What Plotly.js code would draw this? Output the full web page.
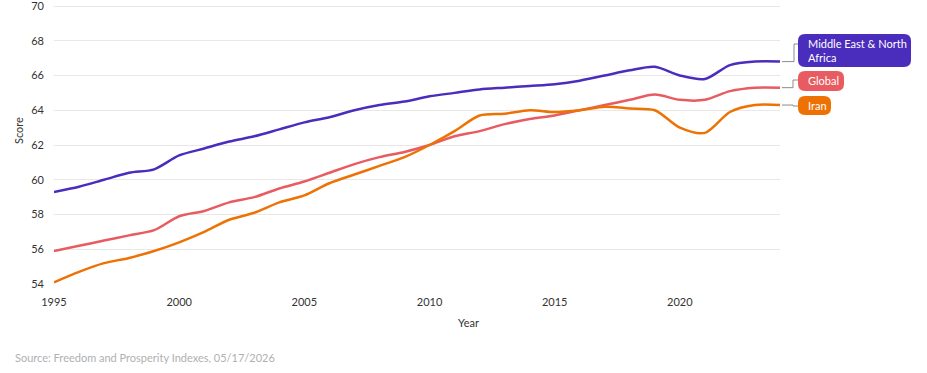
<!DOCTYPE html>
<html>
<head>
<meta charset="utf-8">
<script src="https://cdn.plot.ly/plotly-3.0.1.min.js"></script>
<style>
  html, body { margin: 0; padding: 0; background: #fff; }
  #chart { width: 927px; height: 373px; }
</style>
</head>
<body>
<div id="chart"></div>
<script>
// Economic freedom score by year
const years = [1995,1996,1997,1998,1999,2000,2001,2002,2003,2004,2005,2006,2007,2008,2009,2010,
               2011,2012,2013,2014,2015,2016,2017,2018,2019,2020,2021,2022,2023,2024];

const menaScores = [59.3,59.6,60.0,60.4,60.6,61.4,61.8,62.2,62.5,62.9,63.3,63.6,64.0,64.3,64.5,64.8,
                    65.0,65.2,65.3,65.4,65.5,65.7,66.0,66.3,66.5,66.0,65.8,66.6,66.8,66.8];
const globalScores = [55.9,56.2,56.5,56.8,57.1,57.9,58.2,58.7,59.0,59.5,59.9,60.4,60.9,61.3,61.6,62.0,
                      62.5,62.8,63.2,63.5,63.7,64.0,64.3,64.6,64.9,64.6,64.6,65.1,65.3,65.3];
const iranScores = [54.1,54.7,55.2,55.5,55.9,56.4,57.0,57.7,58.1,58.7,59.1,59.8,60.3,60.8,61.3,62.0,
                    62.8,63.7,63.8,64.0,63.9,64.0,64.2,64.1,64.0,63.0,62.7,63.9,64.3,64.3];

const seriesNames = ["Middle East & North Africa", "Global", "Iran"];
const seriesLabels = ["Middle East & North<br>Africa", "Global", "Iran"];
const seriesColors = ["#4a2dbd", "#e85b60", "#ee7203"];
const seriesValues = [menaScores, globalScores, iranScores];

const yTicks = [54,56,58,60,62,64,66,68,70];
const xTicks = [1995,2000,2005,2010,2015,2020];

const FONT = "Lato, 'Open Sans', sans-serif";
const W = 927, H = 373;
const M = {l: 54, r: 147, t: 0, b: 89};
const plotW = W - M.l - M.r, plotH = H - M.t - M.b;
// 16 score units span 278px; the area above 70 keeps a little headroom
const yRange = [54, 70 + 6 * 16 / 278];

// pixel helpers for the label boxes beside the plot
const px = x => (x - M.l) / plotW;
const py = y => (H - M.b - y) / plotH;
const valToPy = v => (H - M.b) - (v - yRange[0]) / (yRange[1] - yRange[0]) * plotH;

function roundRect(x0, y0, x1, y1, r) {
  const P = (x, y) => px(x) + "," + py(y);
  return "M" + P(x0 + r, y0) + " L" + P(x1 - r, y0) + " Q" + P(x1, y0) + " " + P(x1, y0 + r) +
         " L" + P(x1, y1 - r) + " Q" + P(x1, y1) + " " + P(x1 - r, y1) +
         " L" + P(x0 + r, y1) + " Q" + P(x0, y1) + " " + P(x0, y1 - r) +
         " L" + P(x0, y0 + r) + " Q" + P(x0, y0) + " " + P(x0 + r, y0) + " Z";
}

const traces = seriesValues.map((vals, i) => ({
  x: years, y: vals, name: seriesNames[i], type: "scatter", mode: "lines",
  line: {color: seriesColors[i], width: 2.5, shape: "spline", smoothing: 0.8},
  hoverinfo: "skip", cliponaxis: false
}));

// label boxes (left, top, right, bottom, elbow x, centre y) in pixels
const boxes = [
  {x0: 798, y0: 34, x1: 911, y1: 67, elbow: 794, cy: 44},
  {x0: 798, y0: 71, x1: 844, y1: 91, elbow: 793, cy: 80},
  {x0: 798, y0: 96, x1: 831, y1: 115, elbow: 793, cy: 106}
];

const shapes = [];
const annotations = [];
boxes.forEach((b, i) => {
  const vals = seriesValues[i];
  const ly = valToPy(vals[vals.length - 1]);
  shapes.push({
    type: "path", xref: "paper", yref: "paper",
    path: "M" + px(782) + "," + py(ly) + " L" + px(b.elbow) + "," + py(ly) +
          " L" + px(b.elbow) + "," + py(b.cy) + " L" + px(b.x0) + "," + py(b.cy),
    line: {color: "#8c8c8c", width: 1}
  });
  shapes.push({
    type: "path", xref: "paper", yref: "paper",
    path: roundRect(b.x0, b.y0, b.x1, b.y1, 7),
    fillcolor: seriesColors[i], line: {width: 0}
  });
  annotations.push({
    xref: "paper", yref: "paper", x: px(b.x0 + 8), y: py((b.y0 + b.y1) / 2),
    xanchor: "left", yanchor: "middle", align: "left", showarrow: false,
    text: seriesLabels[i], font: {family: FONT, size: 11, color: "#ffffff"}
  });
});

annotations.push({
  xref: "paper", yref: "paper", x: px(469), y: py(322), xanchor: "center", yanchor: "middle",
  showarrow: false, text: "Year", font: {family: FONT, size: 11, color: "#333333"}
});
annotations.push({
  xref: "paper", yref: "paper", x: px(18), y: py(131), xanchor: "center", yanchor: "middle",
  textangle: -90, showarrow: false, text: "Score", font: {family: FONT, size: 11, color: "#333333"}
});
annotations.push({
  xref: "paper", yref: "paper", x: px(13), y: py(358), xanchor: "left", yanchor: "middle",
  showarrow: false, text: "Source: Freedom and Prosperity Indexes, 05/17/2026",
  font: {family: FONT, size: 11, color: "#b0b0b0"}
});

const layout = {
  width: W, height: H,
  margin: M,
  paper_bgcolor: "#ffffff", plot_bgcolor: "#ffffff",
  showlegend: false,
  font: {family: FONT, size: 11, color: "#333333"},
  xaxis: {
    range: [1995, 2024], tickvals: xTicks, ticktext: xTicks.map(String),
    showgrid: false, zeroline: false, showline: false, ticks: "",
    ticklabelstandoff: 10, fixedrange: true
  },
  yaxis: {
    range: yRange, tickvals: yTicks, ticktext: yTicks.map(String),
    showgrid: true, gridcolor: "#e8e8e8", gridwidth: 1, zeroline: false, showline: false,
    ticks: "", ticklabelstandoff: 9, ticklabeloverflow: "allow", fixedrange: true
  },
  shapes: shapes,
  annotations: annotations
};

Plotly.newPlot("chart", traces, layout, {displayModeBar: false, staticPlot: true});
</script>
</body>
</html>
